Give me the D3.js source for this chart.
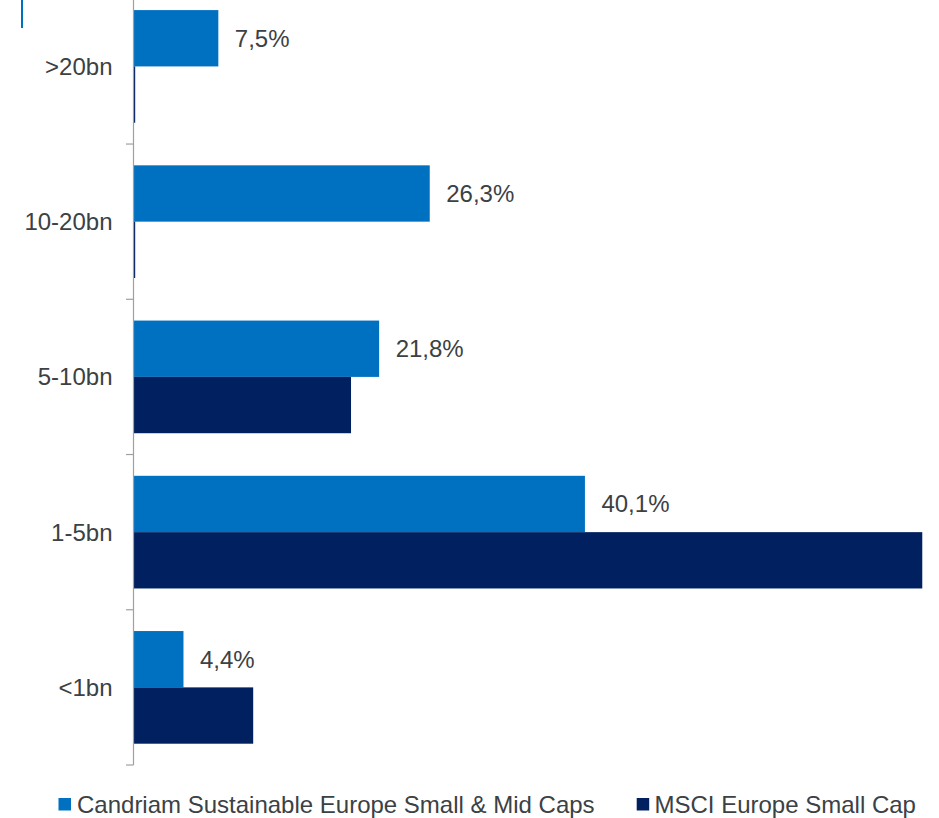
<!DOCTYPE html>
<html>
<head>
<meta charset="utf-8">
<script src="https://cdn.jsdelivr.net/npm/d3@7"></script>
<style>
  html, body { margin: 0; padding: 0; background: #ffffff; }
  svg { display: block; }
  text { font-family: "Liberation Sans", Arial, sans-serif; }
</style>
</head>
<body>
<svg id="chart" width="939" height="818"></svg>
<script>
// ---- data ----
const categories = [">20bn", "10-20bn", "5-10bn", "1-5bn", "<1bn"];
const seriesNames = ["Candriam Sustainable Europe Small & Mid Caps", "MSCI Europe Small Cap"];
const candriamValues = [7.5, 26.3, 21.8, 40.1, 4.4];
const msciValues = [0.1, 0.1, 19.3, 70.1, 10.6];
const valueLabels = ["7,5%", "26,3%", "21,8%", "40,1%", "4,4%"];
const colors = ["#0070C0", "#002060"];

// ---- layout ----
const svg = d3.select("#chart");
const W = 939, H = 818;
const axisX = 134;
const plotTop = -11.2, plotBottom = 765;

const x = d3.scaleLinear().domain([0, 70]).range([axisX, axisX + 70 * 11.245]);
const y0 = d3.scaleBand().domain(categories).range([plotTop, plotBottom]).padding(0);
const y1 = d3.scaleBand().domain(seriesNames).range([0, y0.bandwidth()]).paddingInner(0).paddingOuter(0.378);

const rows = categories.map((c, i) => ({
  cat: c,
  values: [
    { s: seriesNames[0], v: candriamValues[i], color: colors[0] },
    { s: seriesNames[1], v: msciValues[i], color: colors[1] }
  ],
  label: valueLabels[i],
  cand: candriamValues[i]
}));

// decorative blue line top-left
svg.append("line")
  .attr("x1", 22).attr("x2", 22).attr("y1", 0).attr("y2", 28)
  .attr("stroke", "#0070C0").attr("stroke-width", 2);

// bars
const g = svg.append("g");
const groups = g.selectAll("g.row").data(rows).join("g")
  .attr("class", "row")
  .attr("transform", d => `translate(0,${y0(d.cat)})`);

groups.selectAll("rect").data(d => d.values).join("rect")
  .attr("x", x(0))
  .attr("y", d => y1(d.s))
  .attr("width", d => Math.max(1.2, x(d.v) - x(0)))
  .attr("height", y1.bandwidth())
  .attr("fill", d => d.color);

// value labels (Candriam only)
groups.append("text")
  .attr("x", d => x(d.cand) + 16.5)
  .attr("y", y1(seriesNames[0]) + y1.bandwidth() / 2)
  .attr("dominant-baseline", "central")
  .attr("font-size", 24)
  .attr("fill", "#3b4144")
  .text(d => d.label);

// axis line
svg.append("line")
  .attr("x1", axisX - 0.5).attr("x2", axisX - 0.5)
  .attr("y1", 0).attr("y2", plotBottom)
  .attr("stroke", "#a0a0a0").attr("stroke-width", 1.2);

// boundary ticks
const tickYs = categories.slice(1).map(c => y0(c)).concat([plotBottom]);
svg.selectAll("line.tick").data(tickYs).join("line")
  .attr("class", "tick")
  .attr("x1", axisX - 8).attr("x2", axisX - 0.5)
  .attr("y1", d => d).attr("y2", d => d)
  .attr("stroke", "#a0a0a0").attr("stroke-width", 1.2);

// category labels
const yAxis = d3.axisLeft(y0).tickSize(0).tickPadding(0);
const ag = svg.append("g").attr("transform", `translate(${112.5},0)`).call(yAxis);
ag.select(".domain").remove();
ag.selectAll("text")
  .attr("font-size", 24)
  .attr("font-family", "\"Liberation Sans\", Arial, sans-serif")
  .attr("fill", "#3b4144")
  .attr("dy", "0.35em")
  .attr("x", 0);

// legend
const legendItems = [
  { name: seriesNames[0], color: colors[0], mx: 58.5, tx: 77 },
  { name: seriesNames[1], color: colors[1], mx: 636.7, tx: 654.5 }
];
const lg = svg.append("g");
legendItems.forEach(it => {
  lg.append("rect")
    .attr("x", it.mx).attr("y", 798)
    .attr("width", 12.5).attr("height", 12.5)
    .attr("fill", it.color);
  lg.append("text")
    .attr("x", it.tx).attr("y", 813)
    .attr("font-size", 24)
    .attr("fill", "#3b4144")
    .text(it.name);
});
</script>
</body>
</html>
